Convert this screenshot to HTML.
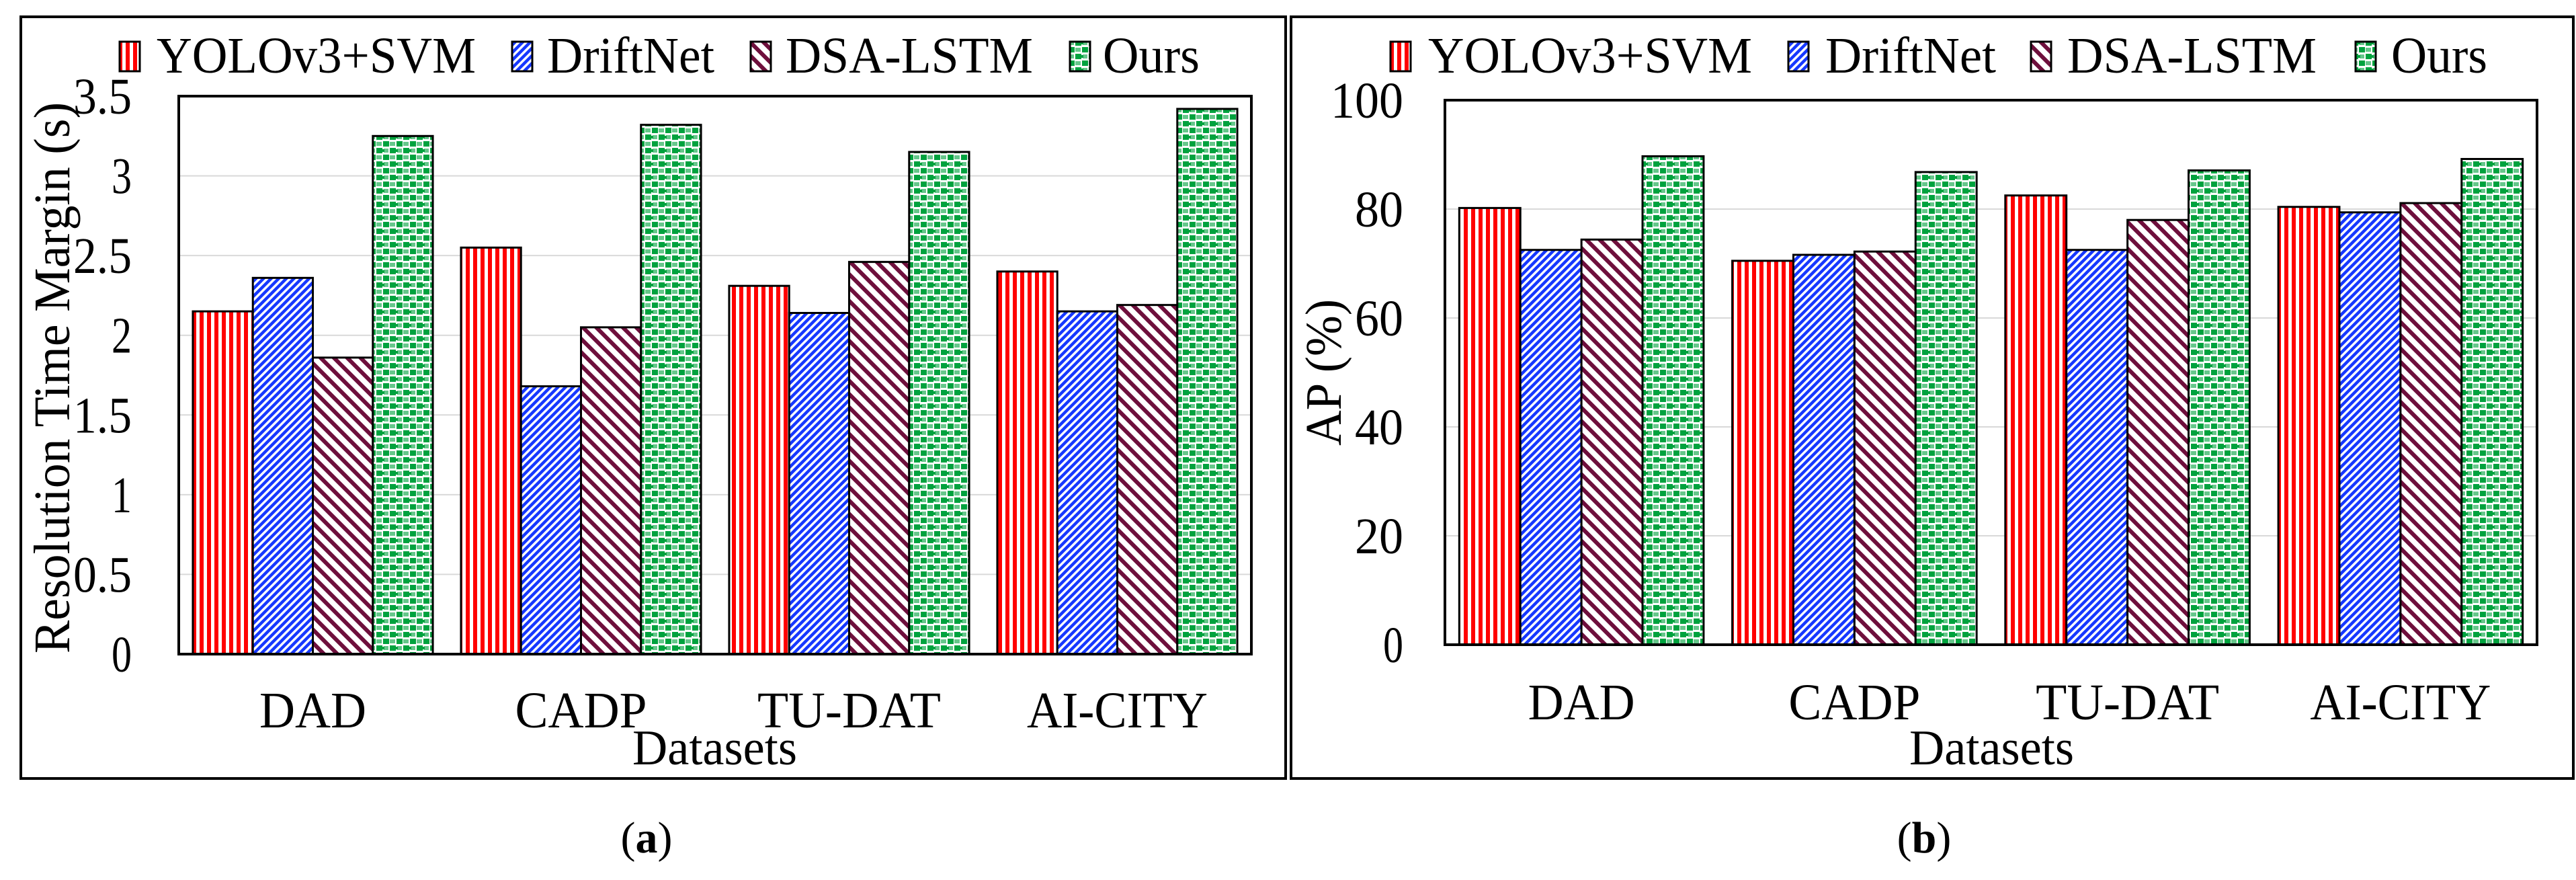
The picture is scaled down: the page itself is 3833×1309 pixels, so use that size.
<!DOCTYPE html>
<html><head><meta charset="utf-8"><style>
html,body{margin:0;padding:0;background:#fff;}
svg{display:block;}
</style></head><body>
<svg id="fig" width="3833" height="1309" viewBox="0 0 3833 1309" xmlns="http://www.w3.org/2000/svg" font-family="'Liberation Serif', 'Times New Roman', serif">
<defs>
<pattern id="pRed" patternUnits="userSpaceOnUse" width="11" height="11"><rect width="11" height="11" fill="#fff"/><rect width="6" height="11" fill="#ff0000"/></pattern>
<pattern id="pBlue" patternUnits="userSpaceOnUse" width="8" height="8" patternTransform="rotate(45)"><rect width="8" height="8" fill="#fff"/><rect width="4.5" height="8" fill="#1638ff"/></pattern>
<pattern id="pMaroon" patternUnits="userSpaceOnUse" width="14" height="14" patternTransform="rotate(-45)"><rect width="14" height="14" fill="#fff"/><rect width="6" height="14" fill="#6e0f3c"/></pattern>
<pattern id="pGreen" patternUnits="userSpaceOnUse" width="20" height="20"><rect width="20" height="20" fill="#fff"/><rect x="0" y="0" width="9" height="8" fill="#00a23e"/><rect x="10" y="10" width="9" height="8" fill="#00a23e"/><rect x="9" y="2" width="3" height="4" fill="#00a23e"/><rect x="0" y="11" width="8" height="6" fill="#00a23e" opacity="0.6"/><rect x="11" y="1" width="7" height="6" fill="#00a23e" opacity="0.6"/></pattern>
</defs>
<g id="root"></g>
</svg>
<script>
const categories = ["DAD","CADP","TU-DAT","AI-CITY"];
const seriesNames = ["YOLOv3+SVM","DriftNet","DSA-LSTM","Ours"];
const timeYOLO = [2.15, 2.55, 2.31, 2.40];
const timeDrift = [2.36, 1.68, 2.14, 2.15];
const timeDSA = [1.86, 2.05, 2.46, 2.19];
const timeOurs = [3.25, 3.32, 3.15, 3.42];
const apYOLO = [80.2, 70.5, 82.5, 80.4];
const apDrift = [72.5, 71.6, 72.5, 79.4];
const apDSA = [74.4, 72.2, 78.0, 81.1];
const apOurs = [89.7, 86.8, 87.1, 89.2];
const timeTicks = ["0","0.5","1","1.5","2","2.5","3","3.5"];
const apTicks = ["0","20","40","60","80","100"];

const NS = "http://www.w3.org/2000/svg";
const root = document.getElementById('root');
const fills = ["url(#pRed)","url(#pBlue)","url(#pMaroon)","url(#pGreen)"];
const catW = [159,196,273,269];
function mk(tag, attrs, parent){const e=document.createElementNS(NS,tag);for(const k in attrs)e.setAttribute(k,attrs[k]);(parent||root).appendChild(e);return e;}

function panel(cfg){
  const g = mk('g',{});
  
  
  const box = mk('rect',{x:cfg.box[0],y:cfg.box[1],width:cfg.box[2]-cfg.box[0],height:cfg.box[3]-cfg.box[1],fill:'none',stroke:'#000','stroke-width':4},g);
  
  
  const [L,T,R,B] = cfg.plot;
  const yMax = cfg.yMax;
  const yS = v => B - v/yMax*(B-T);
  cfg.ticks.forEach(t=>{
    const v = parseFloat(t);
    if(v>0 && v<yMax){
      const gl = mk('line',{x1:L,x2:R,y1:yS(v),y2:yS(v),stroke:'#d9d9d9','stroke-width':2},g);
      
      
    }
    const w = t.length===1 ? 30 : t.length*cfg.tickCharW;
    const tx = mk('text',{x:cfg.tickX - w,y:yS(v)+26,'font-size':76,textLength:w,lengthAdjust:'spacingAndGlyphs'},g);
    tx.textContent = t;
    
    
  });
  const band = (R-L)/categories.length;
  const bw = band*0.895/4;
  categories.forEach((c,i)=>{
    const x0 = L + band*i + band*0.0525;
    cfg.series.forEach((arr,s)=>{
      const v = arr[i];
      const r = mk('rect',{x:x0+s*bw,y:yS(v),width:bw,height:B-yS(v),fill:fills[s],stroke:'#000','stroke-width':3},g);
      
      
    });
    const cx = L+band*(i+0.5);
    const cl = mk('text',{x:cx-catW[i]/2,y:cfg.catY,'font-size':76,textLength:catW[i],lengthAdjust:'spacingAndGlyphs'},g);
    cl.textContent = c;
    
    
  });
  const fr = mk('rect',{x:L,y:T,width:R-L,height:B-T,fill:'none',stroke:'#000','stroke-width':4},g);
  
  
  const xt = mk('text',{x:cfg.xTitle[0]-122,y:cfg.xTitle[1],'font-size':74,textLength:245,lengthAdjust:'spacingAndGlyphs'},g);
  xt.textContent = 'Datasets';
  
  
  const yt = mk('text',{x:-cfg.yLen/2,y:0,'font-size':76,textLength:cfg.yLen,lengthAdjust:'spacingAndGlyphs',transform:`translate(${cfg.yTitle[0]},${cfg.yTitle[1]}) rotate(-90)`},g);
  yt.textContent = cfg.yLabel;
  
  
  cfg.legend.forEach((lg,s)=>{
    const m = mk('rect',{x:lg[0],y:62,width:30,height:44,fill:fills[s],stroke:'#000','stroke-width':3},g);
    
    
    const t = mk('text',{x:lg[1],y:108,'font-size':76,textLength:lg[2],lengthAdjust:'spacingAndGlyphs'},g);
    t.textContent = seriesNames[s];
    
    
  });
  const cap = mk('text',{x:cfg.cap[0],y:1268,'text-anchor':'middle','font-size':66},g);
  cap.innerHTML = '(<tspan font-weight="bold">'+cfg.cap[1]+'</tspan>)';
  
  
}

panel({name:'panel-a', box:[31,25,1913,1158], plot:[266,143,1862,973], yMax:3.5,
  ticks:timeTicks, tickX:196, tickCharW:29, series:[timeYOLO,timeDrift,timeDSA,timeOurs],
  catY:1082, xTitle:[1063,1137], yTitle:[103,562], yLabel:'Resolution Time Margin (s)', yLen:820,
  legend:[[178,233,475],[762,814,249],[1117,1169,368],[1592,1641,144]], cap:[962,'a']});
panel({name:'panel-b', box:[1921,25,3829,1158], plot:[2150,149,3775,959], yMax:100,
  ticks:apTicks, tickX:2088, tickCharW:36, series:[apYOLO,apDrift,apDSA,apOurs],
  catY:1070, xTitle:[2963,1137], yTitle:[1995,554], yLabel:'AP (%)', yLen:218,
  legend:[[2069,2125,482],[2661,2716,254],[3022,3076,371],[3505,3558,143]], cap:[2863,'b']});
</script>
</body></html>
